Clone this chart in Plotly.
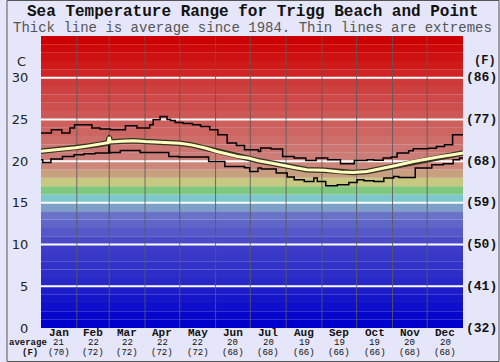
import plotly.graph_objects as go

# ---------------- data ----------------
months = ["Jan", "Feb", "Mar", "Apr", "May", "Jun", "Jul", "Aug", "Sep", "Oct", "Nov", "Dec"]
month_days = [31, 28, 31, 30, 31, 30, 31, 31, 30, 31, 30, 31]
month_avg_c = ["21", "22", "22", "22", "22", "20", "20", "19", "19", "19", "20", "20"]
month_avg_f = ["(70)", "(72)", "(72)", "(72)", "(72)", "(68)", "(68)", "(66)", "(66)", "(66)", "(68)", "(68)"]

c_ticks = [0, 5, 10, 15, 20, 25, 30]
f_ticks = ["(32)", "(41)", "(50)", "(59)", "(68)", "(77)", "(86)"]

max_day = [0, 9, 18, 25, 29, 44, 51, 60, 73, 83, 94, 97, 103, 109, 112, 116, 123, 131, 138, 146,
           153, 161, 169, 176, 188, 190, 199, 209, 219, 229, 238, 248, 259, 271, 282, 288, 296,
           303, 308, 318, 322, 335, 342, 349, 356, 365]
max_val = [23.37, 23.76, 23.37, 23.96, 24.36, 23.96, 23.84, 23.76, 24.24, 23.96, 24.36, 24.96,
           25.36, 25.0, 24.88, 24.64, 24.5, 24.36, 24.16, 23.76, 23.16, 22.17, 21.88, 21.37,
           21.16, 21.57, 21.45, 20.57, 20.37, 20.08, 20.37, 20.17, 19.69, 20.08, 20.17, 20.1,
           20.37, 20.5, 20.97, 21.25, 21.49, 21.55, 21.76, 21.96, 23.16, 23.2]

min_day = [0, 1.5, 8.6, 18.6, 28.6, 37, 47, 58.6, 59.3, 60, 68.6, 85.7, 110.5, 119, 145, 159,
           176, 180.5, 187.7, 190.5, 203.4, 213, 219, 227.7, 236, 239, 246.3, 256.3, 266.3,
           273.4, 279.4, 288, 296.5, 305, 309.4, 323.7, 338, 348, 356.5, 362, 365]
min_val = [20.17, 19.85, 20.25, 20.57, 20.77, 20.89, 20.97, 23.0, 20.97, 21.04, 21.28, 21.04,
           20.57, 20.5, 19.97, 19.37, 19.2, 18.77, 19.17, 19.05, 18.57, 18.1, 17.77, 17.57,
           17.97, 17.57, 17.05, 17.17, 17.45, 17.77, 17.65, 17.57, 17.97, 18.17, 18.05, 19.17,
           19.57, 19.7, 20.17, 20.37, 20.37]

avg_day = [0, 10, 20, 30, 40, 50, 54, 58, 59, 60, 70, 80, 90, 100, 110, 120, 130, 142, 152, 162,
           170, 180, 188, 200, 210, 220, 230, 245, 259, 270, 282, 295, 308, 322, 336, 346, 356, 365]
avg_val = [21.17, 21.3, 21.45, 21.6, 21.8, 22.0, 22.17, 22.2, 22.9, 22.3, 22.37, 22.45, 22.35,
           22.3, 22.25, 22.15, 21.95, 21.57, 21.15, 20.77, 20.55, 20.35, 20.05, 19.75, 19.45,
           19.2, 18.97, 18.9, 18.7, 18.65, 18.75, 19.1, 19.5, 19.95, 20.35, 20.55, 20.77, 20.97]

# ---------------- styling helpers ----------------
def lerp(c1, c2, t):
    return tuple(round(a + (b - a) * t) for a, b in zip(c1, c2))

def band_color(t):
    if t < 5:
        c = lerp((0, 0, 205), (35, 35, 200), t / 5)
    elif t < 10:
        c = lerp((40, 40, 200), (65, 65, 200), (t - 5) / 5)
    elif t < 14:
        c = lerp((75, 75, 200), (115, 130, 200), (t - 10) / 4)
    elif t == 14:
        c = (125, 160, 200)
    elif t == 15:
        c = (125, 200, 205)
    elif t == 16:
        c = (128, 200, 128)
    elif t == 17:
        c = (200, 200, 128)
    elif t == 18:
        c = (200, 160, 128)
    elif t == 19:
        c = (205, 135, 122)
    elif t < 30:
        c = lerp((205, 125, 120), (205, 50, 50), (t - 20) / 10)
    else:
        c = lerp((208, 35, 35), (204, 0, 0), (t - 30) / 4)
    return "rgb(%d,%d,%d)" % c

shapes = []
for t in range(35):
    shapes.append(dict(type="rect", xref="paper", yref="y", x0=0, x1=1, y0=t, y1=t + 1,
                       fillcolor=band_color(t), line=dict(width=0), layer="below"))
for v in c_ticks[1:]:
    shapes.append(dict(type="line", xref="paper", yref="y", x0=0, x1=1, y0=v, y1=v,
                       line=dict(color="white", width=2), layer="below"))
cum = 0
month_mid = []
for i, d in enumerate(month_days):
    month_mid.append(cum + d / 2)
    cum += d
    if i < 11:
        shapes.append(dict(type="line", xref="x", yref="paper", x0=cum, x1=cum, y0=0, y1=1,
                           line=dict(color="rgba(90,90,90,0.85)", width=1), layer="below"))

# outer border of the image
L, R, T, B = 35, 37, 36, 34
pw, ph = 500 - L - R, 362 - T - B
shapes.append(dict(type="rect", xref="paper", yref="paper",
                   x0=-(L - 0.5) / pw, x1=1 + (R - 0.5) / pw, y0=-(B - 0.5) / ph, y1=1 + (T - 0.5) / ph,
                   line=dict(color="#555555", width=1), fillcolor="rgba(0,0,0,0)", layer="above"))

fig = go.Figure()
fig.add_trace(go.Scatter(x=max_day, y=max_val, mode="lines", line=dict(color="black", width=1.5, shape="hv"),
                         hoverinfo="skip"))
fig.add_trace(go.Scatter(x=min_day, y=min_val, mode="lines", line=dict(color="black", width=1.5, shape="hv"),
                         hoverinfo="skip"))
fig.add_trace(go.Scatter(x=avg_day, y=avg_val, mode="lines", line=dict(color="#333322", width=5.5),
                         hoverinfo="skip"))
fig.add_trace(go.Scatter(x=avg_day, y=avg_val, mode="lines", line=dict(color="#FFFFC0", width=3),
                         hoverinfo="skip"))

ann = []
mono = "Liberation Mono, Courier New, monospace"
ann.append(dict(text="<b>Sea Temperature Range for Trigg Beach and Point</b>", xref="paper", yref="paper",
                x=0.5, y=1, yshift=24, xanchor="center", yanchor="middle", showarrow=False,
                font=dict(family=mono, size=16, color="#111111")))
ann.append(dict(text="Thick line is average since 1984. Thin lines are extremes", xref="paper", yref="paper",
                x=0.5, y=1, yshift=8, xanchor="center", yanchor="middle", showarrow=False,
                font=dict(family=mono, size=14, color="#555555")))
for v, ft in zip(c_ticks, f_ticks):
    ann.append(dict(text="<b>%s</b>" % ft, xref="paper", yref="y", x=1, y=v, xshift=1,
                    xanchor="left", yanchor="middle", showarrow=False,
                    font=dict(family=mono, size=13, color="#111111")))
ann.append(dict(text="<b>(F)</b>", xref="paper", yref="y", x=1, y=32, xshift=9,
                xanchor="left", yanchor="middle", showarrow=False,
                font=dict(family=mono, size=12, color="#111111")))
ann.append(dict(text="C", xref="paper", yref="y", x=0, y=32, xshift=-13,
                xanchor="right", yanchor="middle", showarrow=False,
                font=dict(family="DejaVu Sans, Verdana, sans-serif", size=13, color="#222222")))
for m, mid, ac, af in zip(months, month_mid, month_avg_c, month_avg_f):
    ann.append(dict(text="<b>%s</b>" % m, xref="x", yref="paper", x=mid, y=0, yshift=-5,
                    xanchor="center", yanchor="middle", showarrow=False,
                    font=dict(family=mono, size=11, color="#111111")))
    ann.append(dict(text=ac, xref="x", yref="paper", x=mid, y=0, yshift=-15,
                    xanchor="center", yanchor="middle", showarrow=False,
                    font=dict(family=mono, size=9, color="#111111")))
    ann.append(dict(text=af, xref="x", yref="paper", x=mid, y=0, yshift=-24.5,
                    xanchor="center", yanchor="middle", showarrow=False,
                    font=dict(family=mono, size=9, color="#111111")))
ann.append(dict(text="<b>average</b>", xref="paper", yref="paper", x=0, y=0, xshift=-34, yshift=-15,
                xanchor="left", yanchor="middle", showarrow=False,
                font=dict(family=mono, size=9, color="#111111")))
ann.append(dict(text="<b>(F)</b>", xref="paper", yref="paper", x=0, y=0, xshift=-21, yshift=-24.5,
                xanchor="left", yanchor="middle", showarrow=False,
                font=dict(family=mono, size=9, color="#111111")))

fig.update_layout(
    width=500, height=362,
    margin=dict(l=L, r=R, t=T, b=B),
    paper_bgcolor="#E6E6FA", plot_bgcolor="#E6E6FA",
    showlegend=False,
    shapes=shapes, annotations=ann,
    xaxis=dict(range=[0, 365], showgrid=False, zeroline=False, showticklabels=False, ticks="",
               fixedrange=True),
    yaxis=dict(range=[0, 35], tickvals=c_ticks, ticktext=[str(v) for v in c_ticks],
               showgrid=False, zeroline=False, ticks="outside", ticklen=9, tickcolor="rgba(0,0,0,0)",
               tickfont=dict(family="DejaVu Sans, Verdana, sans-serif", size=13, color="#222222"),
               fixedrange=True),
)

fig.write_html("out.html", config={"displayModeBar": False},
               post_script="document.body.style.margin='0';document.body.style.overflow='hidden';")
